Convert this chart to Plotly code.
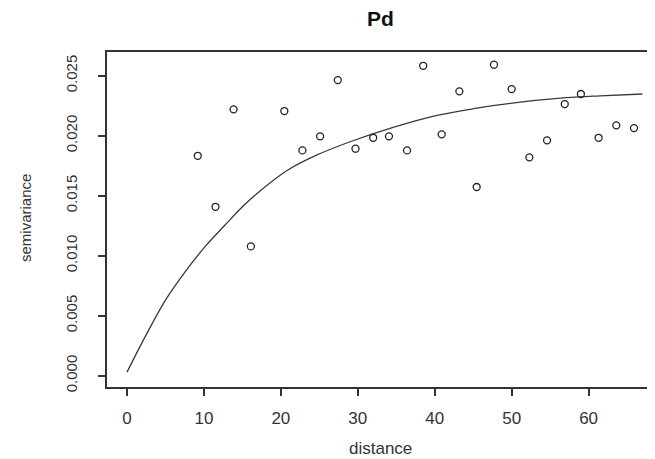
import plotly.graph_objects as go

distance = [9.2, 11.5, 13.85, 16.1, 20.45, 22.8, 25.1, 27.4, 29.7, 32.0, 34.05,
            36.4, 38.5, 40.9, 43.2, 45.45, 47.7, 50.0, 52.3, 54.6, 56.9, 59.0,
            61.3, 63.6, 65.9]
semivariance = [0.01833, 0.01408, 0.0222, 0.01078, 0.02206, 0.01878, 0.01995,
                0.02464, 0.01892, 0.01983, 0.01995, 0.01878, 0.02583, 0.02012,
                0.0237, 0.01573, 0.02592, 0.02389, 0.0182, 0.01962, 0.02264,
                0.02348, 0.01983, 0.02087, 0.02064]

# Fitted model curve
model_h = [0, 2.4, 5.0, 7.6, 10.2, 12.8, 15.2, 17.3, 20.8, 24.7, 29.0, 34.6,
           40.3, 45.5, 49.8, 57.1, 61.5, 67.0]
model_sv = [0.0003, 0.0033, 0.0063, 0.0087, 0.0108, 0.0126, 0.0142, 0.0154,
            0.0171, 0.0184, 0.0195, 0.0207, 0.0217, 0.0223, 0.0227, 0.02317,
            0.02333, 0.02348]

x_ticks = [0, 10, 20, 30, 40, 50, 60]
x_labels = [str(v) for v in x_ticks]
y_ticks = [0.000, 0.005, 0.010, 0.015, 0.020, 0.025]
y_labels = ["%.3f" % v for v in y_ticks]

X_RANGE = [-2.6, 68.5]
Y_RANGE = [-0.00094, 0.02698]

FONT = "Liberation Sans, Arial, sans-serif"
INK = "#333333"

fig = go.Figure()
# model curve on the main (box) axes
fig.add_trace(go.Scatter(
    x=model_h, y=model_sv, mode="lines", xaxis="x", yaxis="y",
    line=dict(color="#3a3a3a", width=1.3, shape="spline", smoothing=1.0),
    hoverinfo="skip", showlegend=False))
# points on the label axes (identical scale)
fig.add_trace(go.Scatter(
    x=distance, y=semivariance, mode="markers", xaxis="x2", yaxis="y2",
    marker=dict(symbol="circle-open", size=7, color="#222222",
                line=dict(width=1.3, color="#222222")),
    showlegend=False))

# main axes: box + short ticks, no labels
axis_main = dict(
    showgrid=False, zeroline=False, showline=True, mirror=True,
    linecolor=INK, linewidth=1.5, automargin=False,
    ticks="outside", ticklen=7, tickwidth=1.5, tickcolor=INK,
    showticklabels=False,
)
# label axes: same scale, invisible long ticks push labels away from the box
axis_lab = dict(
    showgrid=False, zeroline=False, showline=False, automargin=False,
    ticks="outside", tickwidth=1, tickcolor="rgba(0,0,0,0)",
)

# page body has an 8 px offset; work in screen pixels and shift
OFF = 8
W, H = 655 - OFF, 459 - OFF
L, R, T, B = 107 - OFF, 1, 52 - OFF, 459 - 387
pw, ph = W - L - R, H - T - B


def py(screen_y):
    return (H - B - (screen_y - OFF)) / ph


def px(screen_x):
    return (screen_x - OFF - L) / pw


fig.update_layout(
    width=W, height=H,
    margin=dict(l=L, r=R, t=T, b=B),
    paper_bgcolor="white", plot_bgcolor="white",
    xaxis=dict(range=X_RANGE, tickvals=x_ticks, **axis_main),
    yaxis=dict(range=Y_RANGE, tickvals=y_ticks, **axis_main),
    xaxis2=dict(range=X_RANGE, tickvals=x_ticks, ticktext=x_labels,
                overlaying="x", anchor="y2", side="bottom", ticklen=16,
                tickfont=dict(family=FONT, size=17, color=INK), **axis_lab),
    yaxis2=dict(range=Y_RANGE, tickvals=y_ticks, ticktext=y_labels,
                overlaying="y", anchor="x2", side="left", ticklen=23,
                tickangle=-90,
                tickfont=dict(family=FONT, size=15, color=INK), **axis_lab),
    annotations=[
        dict(text="<b>Pd</b>", xref="paper", yref="paper", x=0.5,
             y=py(19), xanchor="center", yanchor="middle",
             showarrow=False, font=dict(family=FONT, size=21, color="#111111")),
        dict(text="distance", xref="paper", yref="paper", x=0.5,
             y=py(448), xanchor="center", yanchor="middle",
             showarrow=False, font=dict(family=FONT, size=17, color=INK)),
        dict(text="semivariance", xref="paper", yref="paper",
             x=px(25), y=py(218), textangle=-90,
             xanchor="center", yanchor="middle",
             showarrow=False, font=dict(family=FONT, size=15, color=INK)),
    ],
)

fig.write_html("out.html")
